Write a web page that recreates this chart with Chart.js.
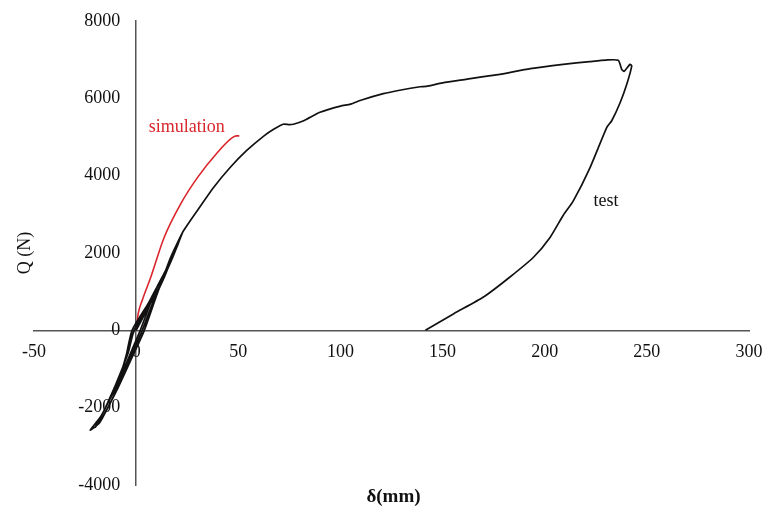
<!DOCTYPE html>
<html>
<head>
<meta charset="utf-8">
<script src="https://cdn.jsdelivr.net/npm/chart.js@4.4.1/dist/chart.umd.min.js"></script>
<style>
  html, body { margin: 0; padding: 0; background: #fff; }
  #wrap { width: 766px; height: 507px; }
</style>
</head>
<body>
<div id="wrap"><canvas id="chart"></canvas></div>
<script>
  'use strict';

  // tick values
  var xTicks = [-50, 0, 50, 100, 150, 200, 250, 300];
  var yTicks = [-4000, -2000, 0, 2000, 4000, 6000, 8000];

  // test (black) : cyclic loops near the origin, monotonic envelope, then unloading
  var testX = [0, 4, 8, 10, 7, 2, -2, -6, -8, -5, -1,
    5, 10, 16, 18, 14, 8, 3, -2, -8, -13, -15, -10, -4, -1,
    6, 12, 18, 21, 16, 9, 4, -2, -9, -16, -20, -14, -6, -2,
    6, 13, 19, 22.7, 17, 10, 4, -3, -11, -18, -22.5, -17, -8, -3, 0, 7, 14, 20, 22.7,
    30, 38, 46, 54, 62.6, 67.5, 72, 75, 77, 82, 90, 100, 105, 110, 121, 129, 139, 142, 150,
    162, 170, 178, 193, 209, 222, 230, 236, 237.7, 238.9, 241.8, 242.6, 240.2, 237, 232.8,
    230.4, 222.2, 214, 209, 202.7, 194.5, 183, 170, 155.5, 141.6];
  var testY = [0, 400, 900, 1100, 700, 0, -500, -1000, -1200, -700, 0,
    500, 1100, 1700, 1950, 1400, 700, 0, -600, -1300, -1800, -2000, -1400, -600, 0,
    600, 1200, 1900, 2300, 1700, 800, 0, -700, -1500, -2200, -2500, -1900, -900, 0,
    700, 1400, 2050, 2530, 1900, 900, 0, -800, -1700, -2400, -2580, -2200, -1200, -300, 100, 800, 1500, 2200, 2530,
    3100, 3700, 4210, 4645, 5030, 5205, 5330, 5320, 5330, 5420, 5640, 5800, 5850, 5950, 6120, 6210, 6300, 6310, 6400,
    6495, 6560, 6620, 6770, 6880, 6950, 6990, 6985, 6750, 6700, 6880, 6840, 6370, 5900, 5420,
    5250, 4210, 3350, 2970, 2410, 1890, 1380, 860, 430, 0];

  // simulation (red)
  var simX = [0, 1, 3, 7.2, 13.7, 21.8, 30, 39.8, 46.3, 49, 50.5];
  var simY = [0, 430, 780, 1380, 2400, 3270, 3950, 4600, 4950, 5030, 5030];

  // curve labels, placed in data units
  var labels = [
    { text: 'simulation', x: 24.8, y: 5240, color: '#d9262c' },
    { text: 'test', x: 230, y: 3330, color: '#111' }
  ];

  function toPoints(xs, ys) {
    return xs.map(function(x, i) { return { x: x, y: ys[i] }; });
  }

  var serif = '"Liberation Serif", "Times New Roman", serif';

  // tick labels hug the crossing axes, so they are drawn here from the scales
  var textPlugin = {
    id: 'textPlugin',
    afterDraw: function(chart) {
      var ctx = chart.ctx;
      var area = chart.chartArea;
      var sx = chart.scales.x;
      var sy = chart.scales.y;
      var axisX = sx.getPixelForValue(0);
      var axisY = sy.getPixelForValue(0);
      ctx.save();
      ctx.textBaseline = 'middle';
      ctx.font = '18px ' + serif;
      ctx.fillStyle = '#111';
      ctx.textAlign = 'right';
      yTicks.forEach(function(v) {
        ctx.fillText(String(v), axisX - 16, sy.getPixelForValue(v));
      });
      ctx.textAlign = 'center';
      xTicks.forEach(function(v) {
        ctx.fillText(String(v), sx.getPixelForValue(v), axisY + 22);
      });
      labels.forEach(function(l) {
        ctx.fillStyle = l.color;
        ctx.fillText(l.text, sx.getPixelForValue(l.x), sy.getPixelForValue(l.y));
      });
      // axis titles
      ctx.fillStyle = '#111';
      ctx.font = 'bold 19px ' + serif;
      ctx.fillText('\u03b4(mm)', (area.left + area.right) / 2 + 2, area.bottom + 12);
      ctx.font = '18px ' + serif;
      ctx.translate(25, (area.top + area.bottom) / 2);
      ctx.rotate(-Math.PI / 2);
      ctx.fillText('Q (N)', 0, 0);
      ctx.restore();
    }
  };

  new Chart(document.getElementById('chart').getContext('2d'), {
    type: 'scatter',
    data: {
      datasets: [{
        label: 'test',
        data: toPoints(testX, testY),
        showLine: true,
        borderColor: '#111',
        borderWidth: 1.7,
        pointRadius: 0,
        tension: 0.2
      }, {
        label: 'simulation',
        data: toPoints(simX, simY),
        showLine: true,
        borderColor: '#d9262c',
        borderWidth: 1.6,
        pointRadius: 0,
        cubicInterpolationMode: 'monotone'
      }]
    },
    options: {
      responsive: true,
      maintainAspectRatio: false,
      animation: false,
      layout: {
        padding: { left: 34, right: 17, top: 21, bottom: 22 }
      },
      plugins: {
        legend: { display: false },
        tooltip: { enabled: false }
      },
      scales: {
        x: {
          type: 'linear',
          position: { y: 0 },
          min: xTicks[0],
          max: xTicks[xTicks.length - 1],
          afterBuildTicks: function(scale) {
            scale.ticks = xTicks.map(function(v) { return { value: v }; });
          },
          grid: { display: false, drawTicks: false },
          border: { display: true, color: '#555', width: 1.5 },
          ticks: { display: false }
        },
        y: {
          type: 'linear',
          position: { x: 0 },
          min: yTicks[0],
          max: yTicks[yTicks.length - 1],
          afterBuildTicks: function(scale) {
            scale.ticks = yTicks.map(function(v) { return { value: v }; });
          },
          grid: { display: false, drawTicks: false },
          border: { display: true, color: '#555', width: 1.5 },
          ticks: { display: false }
        }
      }
    },
    plugins: [textPlugin]
  });
</script>
</body>
</html>
